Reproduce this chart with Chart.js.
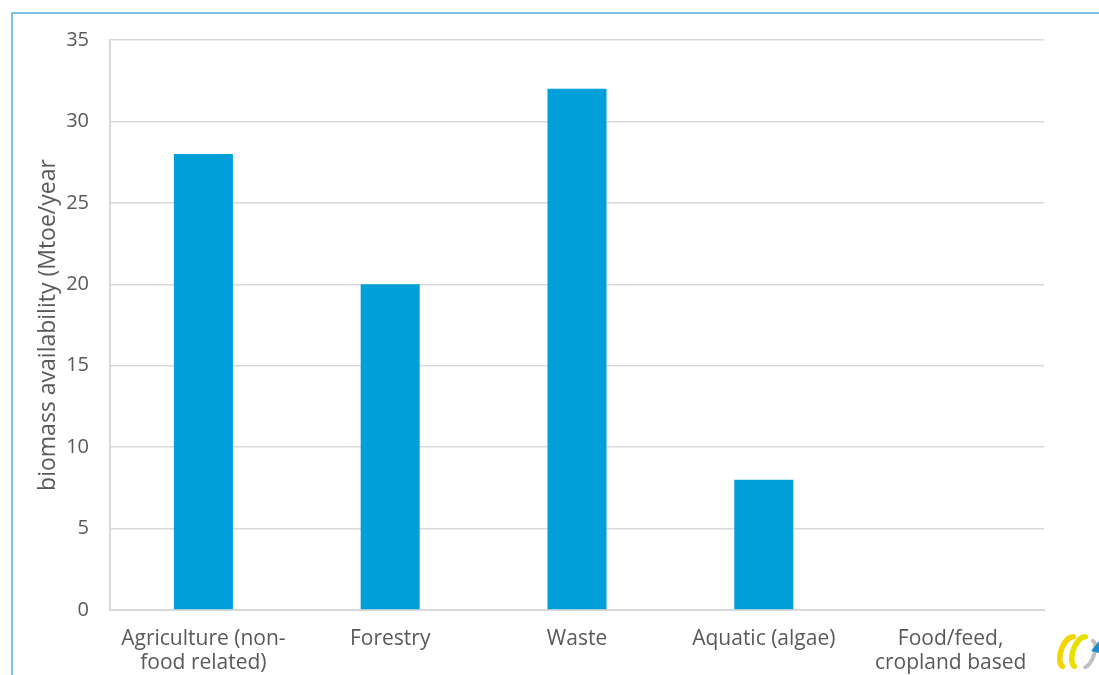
<!DOCTYPE html>
<html>
<head>
<meta charset="utf-8">
<script src="https://cdn.jsdelivr.net/npm/chart.js@4"></script>
<style>
    html, body { margin: 0; padding: 0; background: #fff; }
    #wrap { position: relative; width: 1099px; height: 675px; }
</style>
</head>
<body>
<div id="wrap"><canvas id="myPlot"></canvas></div>
<script>
const categories = [
    ['Agriculture (non-', 'food related)'],
    'Forestry',
    'Waste',
    'Aquatic (algae)',
    ['Food/feed,', 'cropland based']
];
const availability = [28, 20, 32, 8, 0];
const yTicks = [0, 5, 10, 15, 20, 25, 30, 35];

const textColor = '#595959';
const fontFamily = "'Open Sans', 'Noto Sans', sans-serif";

// slide frame lines and the small logo in the corner
const slideDecor = {
    id: 'slideDecor',
    beforeDraw(chart) {
        const ctx = chart.ctx;
        ctx.save();
        ctx.strokeStyle = '#4FB0E0';
        ctx.lineWidth = 1.5;
        ctx.beginPath();
        ctx.moveTo(12, 675);
        ctx.lineTo(12, 13);
        ctx.lineTo(1099, 13);
        ctx.stroke();
        ctx.restore();
    },
    afterDraw(chart) {
        const ctx = chart.ctx;
        ctx.save();
        ctx.lineCap = 'round';
        ctx.lineWidth = 5.5;
        ctx.strokeStyle = '#F2D500';
        ctx.beginPath();
        ctx.ellipse(1069, 652, 8, 16, 0.35, Math.PI * 0.55, Math.PI * 1.45);
        ctx.stroke();
        ctx.strokeStyle = '#E8E000';
        ctx.beginPath();
        ctx.ellipse(1081, 652, 8, 16, 0.35, Math.PI * 0.55, Math.PI * 1.45);
        ctx.stroke();
        ctx.strokeStyle = '#C0C0C0';
        ctx.lineWidth = 4;
        ctx.beginPath();
        ctx.ellipse(1088, 654, 6, 14, 0.35, Math.PI * 1.5, Math.PI * 2.4);
        ctx.stroke();
        ctx.fillStyle = '#1A8FD0';
        ctx.beginPath();
        ctx.moveTo(1091, 651);
        ctx.lineTo(1099, 641);
        ctx.lineTo(1099, 653);
        ctx.closePath();
        ctx.fill();
        ctx.restore();
    }
};

new Chart(document.getElementById('myPlot'), {
    type: 'bar',
    data: {
        labels: categories,
        datasets: [{
            data: availability,
            backgroundColor: '#009FDA',
            barPercentage: 0.316,
            categoryPercentage: 1
        }]
    },
    options: {
        animation: false,
        responsive: true,
        maintainAspectRatio: false,
        layout: {
            padding: { left: 0, right: 55, top: 40, bottom: 0 }
        },
        plugins: {
            legend: { display: false },
            tooltip: { enabled: false }
        },
        scales: {
            x: {
                afterFit(scale) { scale.height = 65; },
                grid: { display: false, drawTicks: false },
                border: { color: '#D9D9D9', width: 2 },
                ticks: {
                    color: textColor,
                    padding: 17,
                    maxRotation: 0,
                    autoSkip: false,
                    font: { family: fontFamily, size: 21, lineHeight: 1.15 }
                }
            },
            y: {
                min: 0,
                max: 35,
                afterFit(scale) { scale.width = 110; },
                afterBuildTicks(scale) {
                    scale.ticks = yTicks.map(v => ({ value: v }));
                },
                grid: { color: '#D9D9D9', lineWidth: 1.5, drawTicks: false },
                border: { color: '#D9D9D9', width: 2 },
                ticks: {
                    color: textColor,
                    padding: 21,
                    font: { family: fontFamily, size: 20 }
                },
                title: {
                    display: true,
                    text: 'biomass availability (Mtoe/year',
                    color: textColor,
                    padding: { top: 35, bottom: 0 },
                    font: { family: fontFamily, size: 23 }
                }
            }
        }
    },
    plugins: [slideDecor]
});
</script>
</body>
</html>
